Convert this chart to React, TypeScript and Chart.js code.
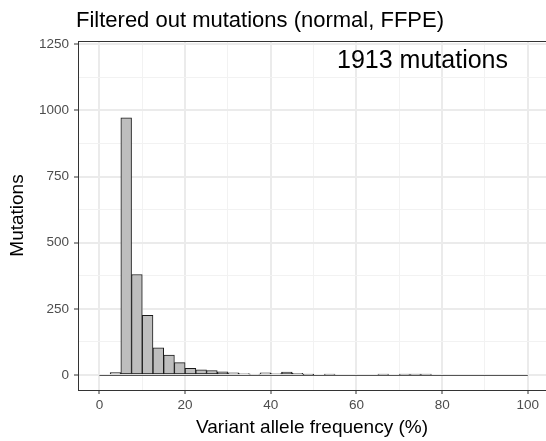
import React, { useEffect, useRef } from "react";
import { Chart, registerables } from "chart.js";

Chart.register(...registerables);

const TITLE = "Filtered out mutations (normal, FFPE)";
const ANNOTATION = "1913 mutations";
const X_TITLE = "Variant allele frequency (%)";
const Y_TITLE = "Mutations";

const BIN_WIDTH = 2.5;
const BIN_STARTS = [
  0, 2.5, 5, 7.5, 10, 12.5, 15, 17.5, 20, 22.5,
  25, 27.5, 30, 32.5, 35, 37.5, 40, 42.5, 45, 47.5,
  50, 52.5, 55, 57.5, 60, 62.5, 65, 67.5, 70, 72.5,
  75, 77.5, 80, 82.5, 85, 87.5, 90, 92.5, 95, 97.5,
];
const COUNTS = [
  0, 9, 972, 380, 226, 103, 75, 47, 25, 20,
  17, 12, 8, 5, 3, 8, 5, 11, 6, 1,
  0, 2, 0, 0, 0, 0, 2, 0, 2, 2,
  2, 0, 0, 0, 0, 0, 0, 0, 0, 0,
];

const X_TICKS = [0, 10, 20, 30, 40, 50, 60, 70, 80, 90, 100];
const X_MAJOR = [0, 20, 40, 60, 80, 100];
const Y_TICKS = [0, 125, 250, 375, 500, 625, 750, 875, 1000, 1125, 1250];
const Y_MAJOR = [0, 250, 500, 750, 1000, 1250];

const FONT = '"Liberation Sans", Arial, Helvetica, sans-serif';

export default function App() {
  const ref = useRef<HTMLCanvasElement | null>(null);

  useEffect(() => {
    document.body.style.margin = "0";
    const canvas = ref.current;
    if (!canvas) return;

    const data = BIN_STARTS.map((s, i) => ({ x: s + BIN_WIDTH / 2, y: COUNTS[i] }));

    const decor = {
      id: "decor",
      beforeDatasetsDraw(chart: any) {
        const { ctx } = chart;
        const xs = chart.scales.x;
        const ys = chart.scales.y;
        const y0 = Math.round(ys.getPixelForValue(0)) + 0.5;
        ctx.save();
        ctx.strokeStyle = "#555555";
        ctx.lineWidth = 1;
        ctx.beginPath();
        ctx.moveTo(xs.getPixelForValue(BIN_STARTS[0]), y0);
        ctx.lineTo(xs.getPixelForValue(BIN_STARTS[BIN_STARTS.length - 1] + BIN_WIDTH), y0);
        ctx.stroke();
        ctx.restore();
      },
      afterDraw(chart: any) {
        const { ctx, chartArea } = chart;
        ctx.save();
        ctx.strokeStyle = "#333333";
        ctx.lineWidth = 1;
        ctx.beginPath();
        ctx.moveTo(chartArea.left, chartArea.top + 0.5);
        ctx.lineTo(chartArea.right, chartArea.top + 0.5);
        ctx.stroke();
        ctx.fillStyle = "#000000";
        ctx.textAlign = "left";
        ctx.textBaseline = "alphabetic";
        ctx.font = `22px ${FONT}`;
        ctx.fillText(TITLE, chartArea.left - 2, 27);
        ctx.textAlign = "right";
        ctx.font = `25px ${FONT}`;
        ctx.fillText(ANNOTATION, chartArea.right - 38, 68);
        ctx.restore();
      },
    };

    const chart = new Chart(canvas, {
      type: "bar",
      data: {
        datasets: [
          {
            data,
            backgroundColor: "#bebebe",
            borderColor: "#1a1a1a",
            borderWidth: 1,
            borderSkipped: false,
            barPercentage: 1,
            categoryPercentage: 1,
          },
        ],
      },
      options: {
        animation: false,
        responsive: true,
        maintainAspectRatio: false,
        layout: { padding: { top: 41, left: 0, right: 0, bottom: 0 } },
        plugins: {
          legend: { display: false },
          tooltip: { enabled: false },
          title: { display: false },
        },
        scales: {
          x: {
            type: "linear",
            offset: false,
            min: -5,
            max: 104.24,
            afterBuildTicks: (scale: any) => {
              scale.ticks = X_TICKS.map((v) => ({ value: v }));
            },
            afterFit: (scale: any) => {
              scale.height = 51;
            },
            ticks: {
              autoSkip: false,
              maxRotation: 0,
              padding: 3,
              color: "#4d4d4d",
              font: { family: FONT, size: 13.5 },
              callback: (v: any) => (X_MAJOR.includes(Number(v)) ? String(v) : ""),
            },
            grid: {
              offset: false,
              color: (c: any) => (c.tick && X_MAJOR.includes(c.tick.value) ? "#ebebeb" : "#f2f2f2"),
              lineWidth: (c: any) => (c.tick && X_MAJOR.includes(c.tick.value) ? 2 : 1),
              tickColor: (c: any) => (c.tick && X_MAJOR.includes(c.tick.value) ? "#333333" : "rgba(0,0,0,0)"),
              tickWidth: 1,
              tickLength: 4,
            },
            border: { display: true, color: "#333333", width: 1 },
            title: {
              display: true,
              text: X_TITLE,
              color: "#000000",
              font: { family: FONT, size: 19 },
              padding: { top: 0, bottom: 2 },
            },
          },
          y: {
            type: "linear",
            min: -56.7,
            max: 1262.5,
            afterBuildTicks: (scale: any) => {
              scale.ticks = Y_TICKS.map((v) => ({ value: v }));
            },
            afterFit: (scale: any) => {
              scale.width = 78;
            },
            ticks: {
              autoSkip: false,
              padding: 5,
              color: "#4d4d4d",
              font: { family: FONT, size: 13.5 },
              callback: (v: any) => (Y_MAJOR.includes(Number(v)) ? String(v) : ""),
            },
            grid: {
              color: (c: any) => (c.tick && Y_MAJOR.includes(c.tick.value) ? "#ebebeb" : "#f2f2f2"),
              lineWidth: (c: any) => (c.tick && Y_MAJOR.includes(c.tick.value) ? 2 : 1),
              tickColor: (c: any) => (c.tick && Y_MAJOR.includes(c.tick.value) ? "#333333" : "rgba(0,0,0,0)"),
              tickWidth: 1,
              tickLength: 4,
            },
            border: { display: true, color: "#333333", width: 1 },
            title: {
              display: true,
              text: Y_TITLE,
              color: "#000000",
              font: { family: FONT, size: 19 },
              padding: { top: 6, bottom: 0 },
            },
          },
        },
      },
      plugins: [decor],
    });

    return () => chart.destroy();
  }, []);

  return (
    <div style={{ position: "fixed", left: 0, top: 0, width: 546, height: 441 }}>
      <canvas ref={ref} />
    </div>
  );
}
